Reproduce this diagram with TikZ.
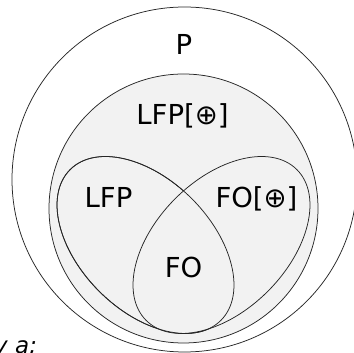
\documentclass[tikz,border=0pt]{standalone}
\usepackage{fontspec}
\setmainfont{DejaVu Sans}
\begin{document}
\begin{tikzpicture}[x=1pt,y=1pt,
  setline/.style={draw=black!85, line width=0.75pt},
  setfill/.style={fill=black!5},
  lbl/.style={inner sep=0pt, anchor=base, font=\fontsize{27.5}{30}\selectfont},
]
\clip (0,0) rectangle (354,353);
\useasboundingbox (0,0) rectangle (354,353);
% outer circle P
\draw[setline] (184.5,173.5) circle [radius=172.5];
% shaded circle LFP[+]
\draw[setline, setfill] (183.5,144.5) circle [radius=134.5];
% two tilted ellipses
\draw[setline, setfill, rotate around={-45:(145.5,108)}] (145.5,108) ellipse [x radius=106.6, y radius=65.5];
\fill[setfill, rotate around={45:(221.5,108)}] (221.5,108) ellipse [x radius=106.6, y radius=65.5];
\draw[setline, rotate around={-45:(145.5,108)}] (145.5,108) ellipse [x radius=106.6, y radius=65.5];
\draw[setline, rotate around={45:(221.5,108)}] (221.5,108) ellipse [x radius=106.6, y radius=65.5];
% labels
\node[lbl] (p) at (184,298) {P};
\node[lbl] (lfpx) at (182.5,228) {LFP[⊕]};
\node[lbl] (lfp) at (108.5,145) {LFP};
\node[lbl] (fox) at (256.5,145) {FO[⊕]};
\node[lbl] (fo) at (183.5,75) {FO};
\node[inner sep=0pt, anchor=base west, font=\fontsize{23}{26}\selectfont\itshape] (frag) at (-6,-1) {y a;};
\end{tikzpicture}
\end{document}
